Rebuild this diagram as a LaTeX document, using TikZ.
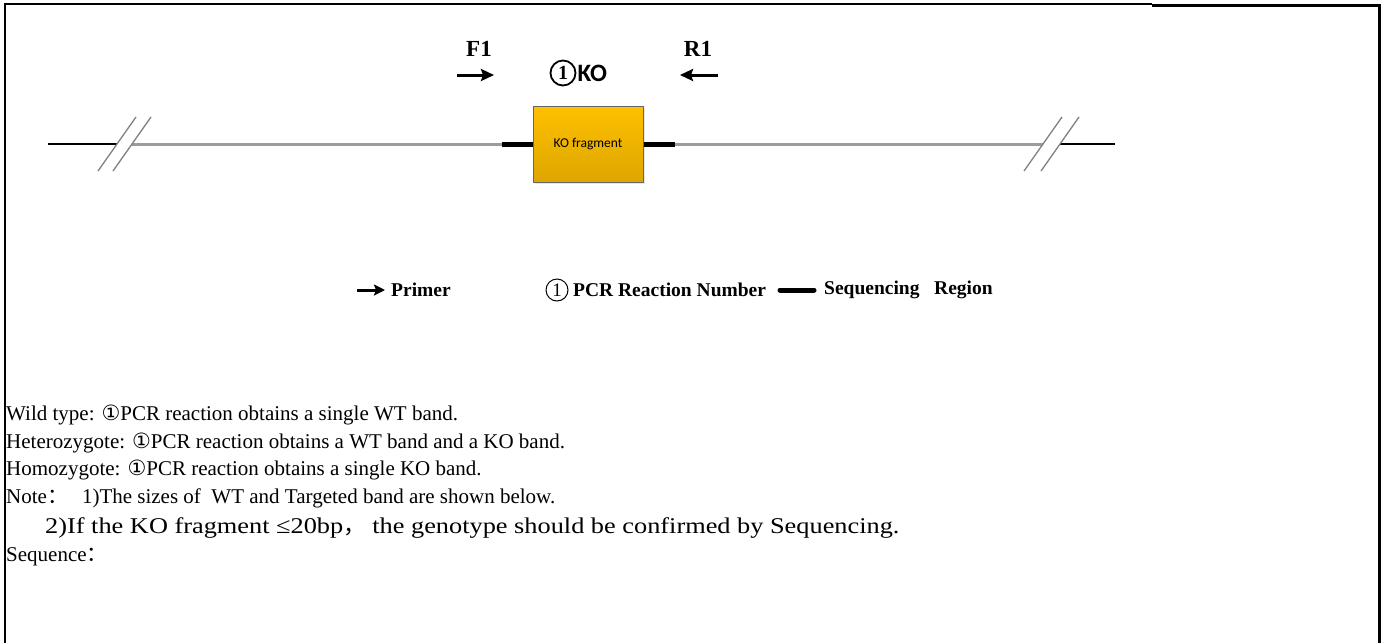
\documentclass[tikz,border=0pt]{standalone}
\usepackage{fontspec}
\setmainfont{Liberation Serif}
\newfontfamily\calibri{Carlito}
\newfontfamily\dejavu{DejaVu Sans}
\newfontfamily\cjk{Noto Sans CJK SC}
\usetikzlibrary{positioning,arrows.meta,calc,shadows}

\definecolor{kogold}{HTML}{FFC000}
\definecolor{kodark}{HTML}{DDA600}
\definecolor{linegray}{HTML}{9C9C9C}

\tikzset{
  primer/.style={-{Stealth[length=13pt,width=12pt,inset=2pt]}, line width=3pt},
  seqbar/.style={line width=5pt},
  backbone/.style={linegray, line width=3pt},
  brk/.style={gray, line width=1.3pt},
  bodytext/.style={anchor=west, inner sep=0pt, font=\fontsize{21}{24}\selectfont},
  legtext/.style={anchor=west, inner sep=0pt, font=\fontsize{19.5}{22}\selectfont\bfseries},
}

\begin{document}
\begin{tikzpicture}[x=1pt,y=-1pt]
\useasboundingbox (0,0) rectangle (1388,643);
% frame
\draw[line width=1.5pt] (5,643) -- (5,4) -- (1152,4);
\draw[line width=3pt] (1152,5) -- (1379,5) -- (1379,643);

% KO region
\node[draw=gray!80!black, line width=1pt, top color=kogold, bottom color=kodark,
      drop shadow={opacity=0.2, shadow xshift=1.5pt, shadow yshift=-1.5pt},
      minimum width=110pt, minimum height=76pt, inner sep=0pt,
      font=\calibri\fontsize{13.5}{15}\selectfont] (ko) at (588,144) {KO fragment};
\coordinate[left=31pt of ko.west] (seqL);
\coordinate[right=31pt of ko.east] (seqR);
\coordinate (lend) at (48,144);
\coordinate (lcut) at (117,144);
\coordinate (lgap) at (132,144);
\coordinate (rcut) at (1043,144);
\coordinate (rgap) at (1060,144);
\coordinate (rend) at (1115,144);

\draw[line width=1.2pt] (lend) -- (lcut);
\draw[backbone] (lgap) -- (seqL);
\draw[backbone] (seqR) -- (rcut);
\draw[line width=1.2pt] (rgap) -- (rend);
\draw[seqbar] (seqL) -- (ko.west);
\draw[seqbar] (ko.east) -- (seqR);
\foreach \c in {lcut,lgap,rcut,rgap}
  \draw[brk] ($(\c)+(-19,27)$) -- ($(\c)+(19,-27)$);

% primers
\coordinate (f1s) at (457,75);
\coordinate (f1e) at (494,75);
\coordinate (r1s) at (718,75);
\coordinate (r1e) at (680,75);
\draw[primer] (f1s) -- (f1e);
\draw[primer] (r1s) -- (r1e);
\node[font=\fontsize{23}{26}\selectfont\bfseries] (f1) at (479,49) {F1};
\node[font=\fontsize{23}{26}\selectfont\bfseries] (r1) at (698,49) {R1};
\node[circle, draw, line width=1.8pt, minimum size=25pt, inner sep=0pt,
      font=\fontsize{20}{22}\selectfont\bfseries] (num) at (563,73) {1};
\node[right=1pt of num, inner sep=0pt, font=\calibri\fontsize{25}{27}\selectfont\bfseries] (kolab) {KO};

% legend
\coordinate (legs) at (357,290);
\coordinate (lege) at (385,290);
\draw[primer, -{Stealth[length=11pt,width=11pt,inset=2pt]}, line width=3pt] (legs) -- (lege);
\node[legtext] (lprimer) at (391,290) {Primer};
\node[circle, draw, line width=1pt, minimum size=22pt, inner sep=0pt,
      font=\fontsize{19}{21}\selectfont] (lnum) at (557,290) {1};
\node[legtext] (lpcr) at (573,290) {PCR Reaction Number};
\coordinate (bars) at (780,290);
\coordinate (bare) at (814,290);
\draw[line width=5pt, line cap=round] (bars) -- (bare);
\node[legtext] (lseq) at (824,290) {Sequencing\ \ \ Region};

% notes
\node[bodytext] (wt) at (6,415) {Wild type: {\dejavu ①}PCR reaction obtains a single WT band.};
\node[bodytext] (het) at (6,443) {Heterozygote: {\dejavu ①}PCR reaction obtains a WT band and a KO band.};
\node[bodytext] (hom) at (6,470) {Homozygote: {\dejavu ①}PCR reaction obtains a single KO band.};
\node[bodytext] (note) at (6,498) {Note{\cjk ：}\hspace{14pt}1)The sizes of\ \ WT and Targeted band are shown below.};
\node[bodytext, font=\fontsize{22.5}{26}\selectfont\addfontfeature{FakeStretch=1.17}] (note2) at (45,528)
  {2)If the KO fragment ≤20bp{\cjk ，}\ the genotype should be confirmed by Sequencing.};
\node[bodytext] (seq) at (6,557) {Sequence{\cjk ：}};
\end{tikzpicture}
\end{document}
